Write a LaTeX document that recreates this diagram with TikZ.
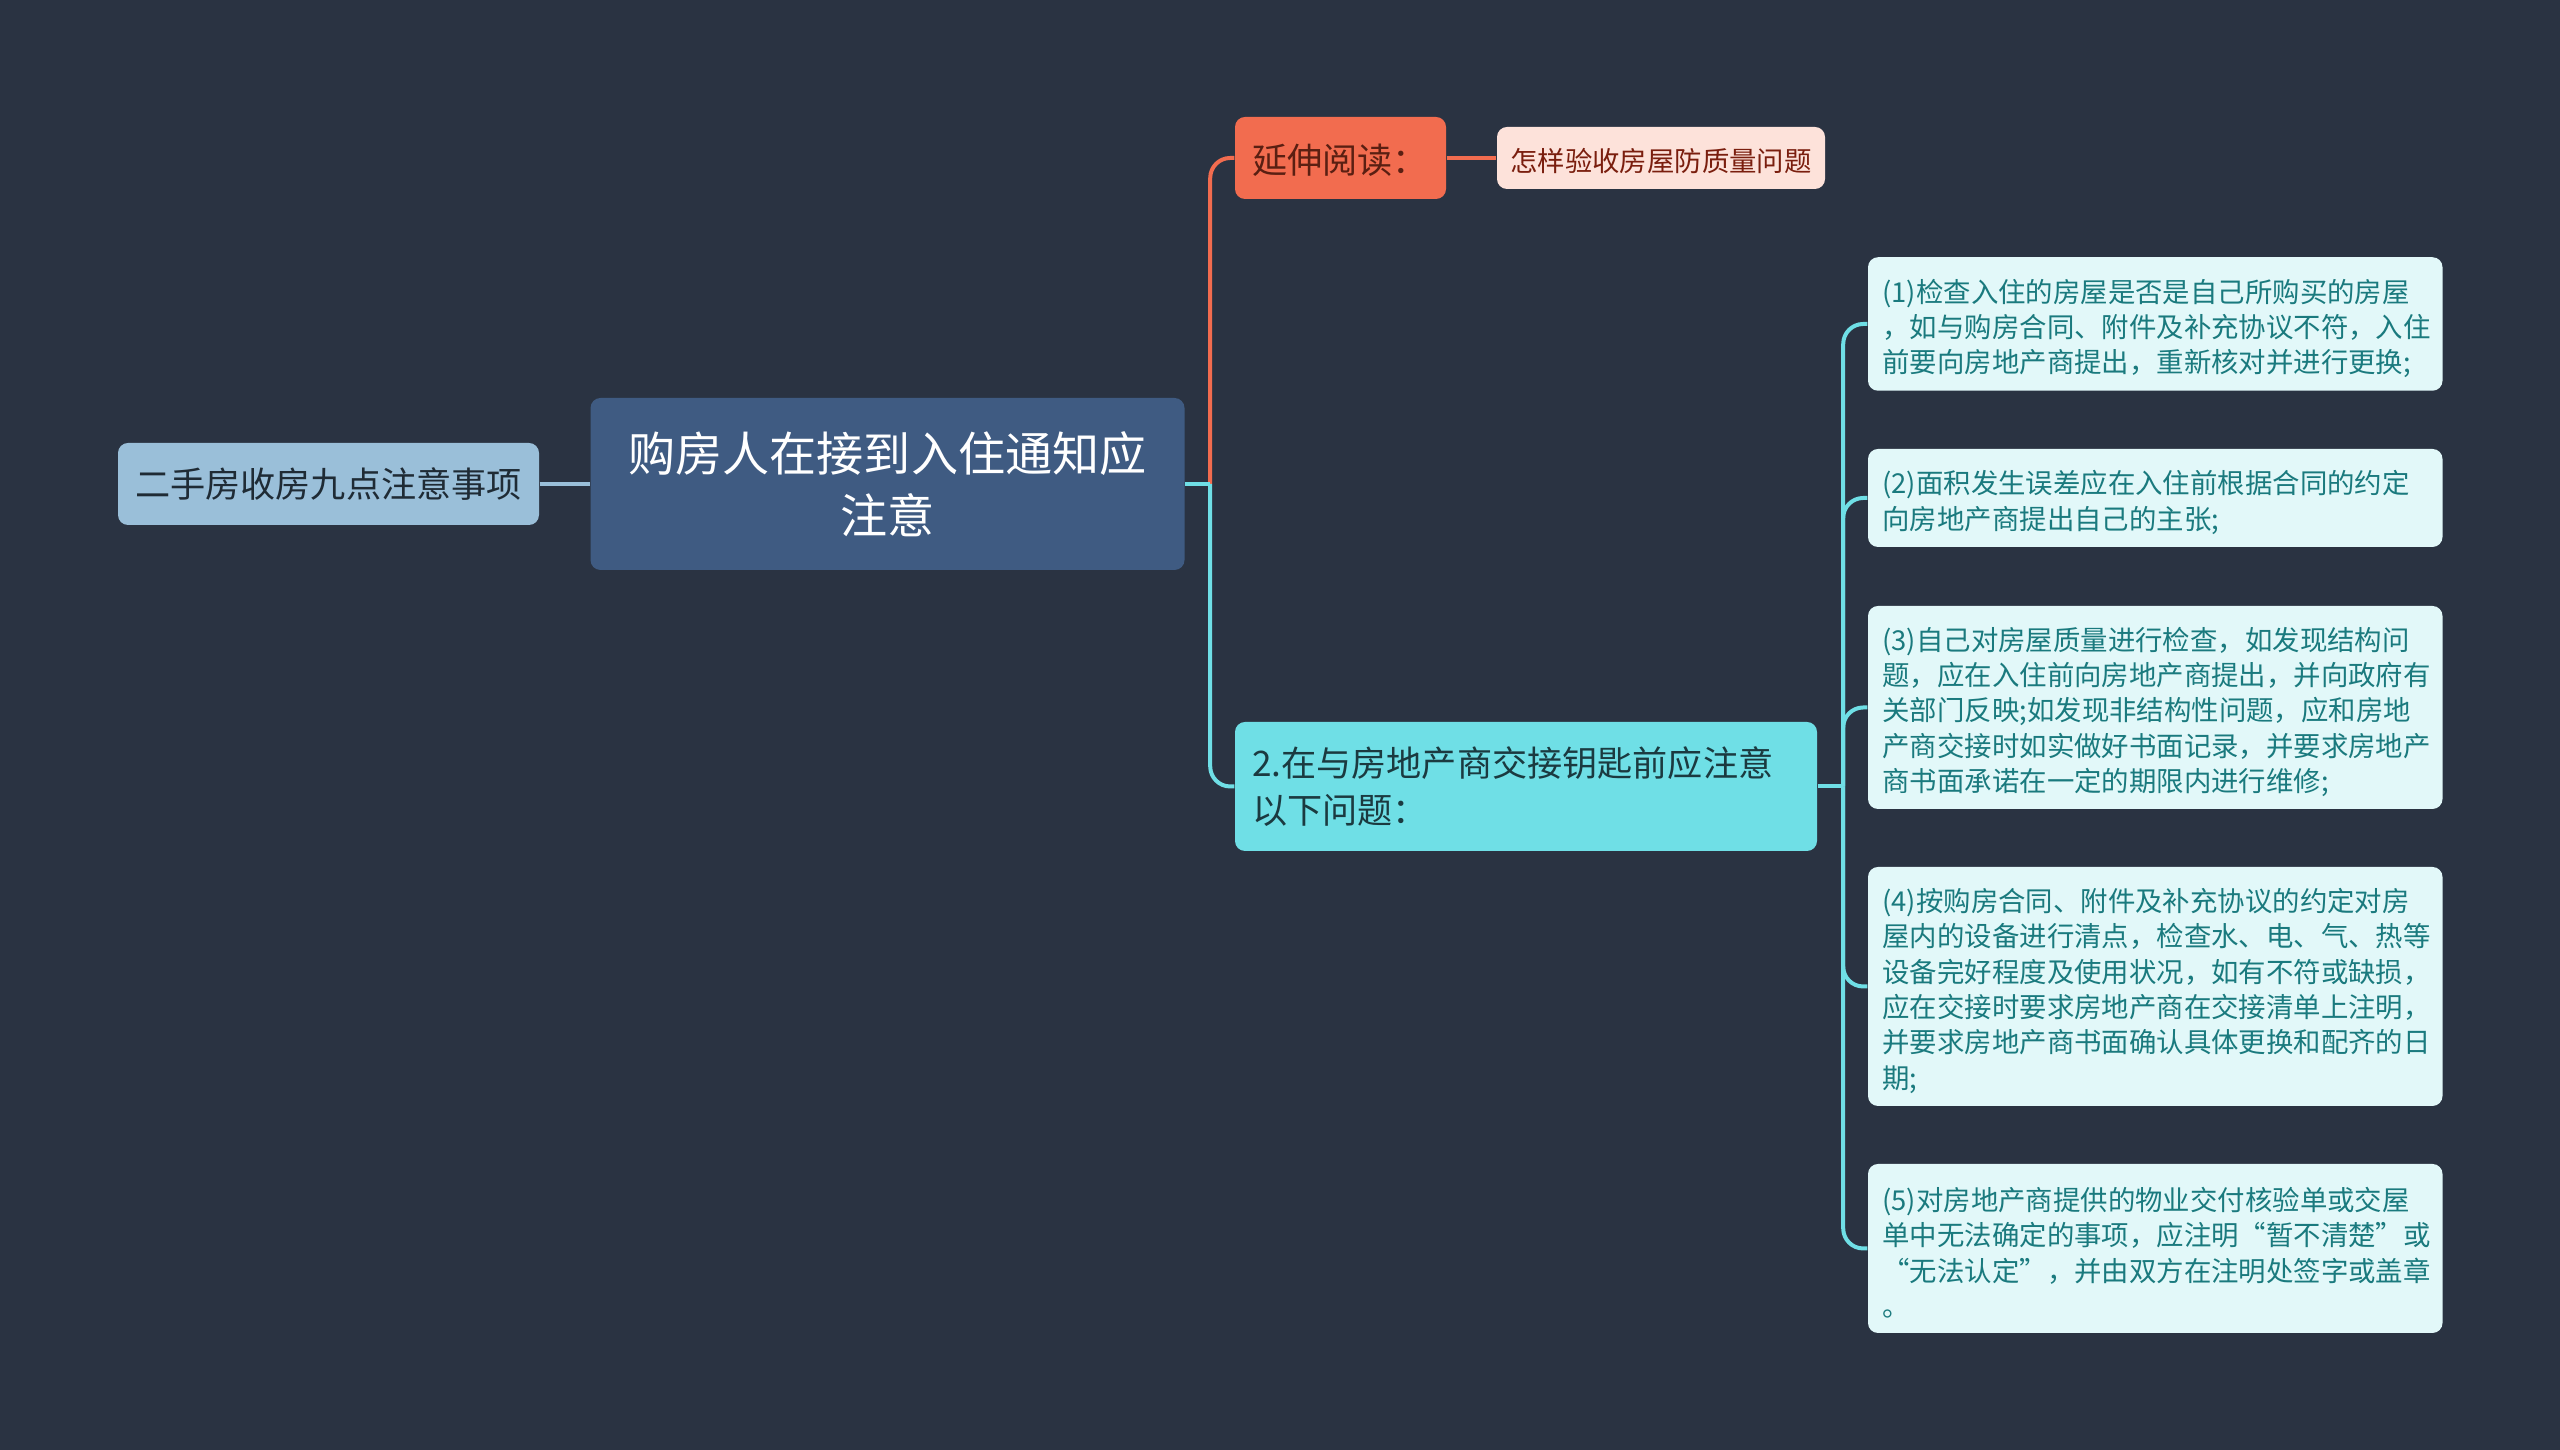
\documentclass[tikz,border=0pt]{standalone}
\usepackage{fontspec}
\setmainfont{Noto Sans CJK SC}
\usetikzlibrary{positioning}
\definecolor{pagebg}{HTML}{2A3342}
\definecolor{rootfill}{HTML}{3F5B82}
\definecolor{sidefill}{HTML}{9ABFD9}
\definecolor{sidetext}{HTML}{1F2B35}
\definecolor{hotfill}{HTML}{F26C4F}
\definecolor{hottext}{HTML}{5A1F12}
\definecolor{palefill}{HTML}{FDE2DA}
\definecolor{paletext}{HTML}{7A1E0E}
\definecolor{topicfill}{HTML}{6FDFE6}
\definecolor{topictext}{HTML}{1B3A40}
\definecolor{leaffill}{HTML}{E2F8F9}
\definecolor{leaftext}{HTML}{1A7A7E}
\tikzstyle{rootdata} = [fill=rootfill, text=white, align=center, text width=5.94cm, inner sep=0pt, minimum height=1.72cm, rounded corners=0.1cm, font=\fontsize{13.4}{17.6}\selectfont]
\tikzstyle{sidedata} = [fill=sidefill, text=sidetext, align=center, text width=4.21cm, inner sep=0pt, minimum height=0.82cm, rounded corners=0.1cm, font=\fontsize{10}{13.5}\selectfont]
\tikzstyle{hotdata} = [fill=hotfill, text=hottext, align=left, text width=1.77cm, inner xsep=0.17cm, inner ysep=0pt, minimum height=0.82cm, rounded corners=0.1cm, font=\fontsize{10}{13.5}\selectfont]
\tikzstyle{paledata} = [fill=palefill, text=paletext, align=center, text width=3.28cm, inner sep=0pt, minimum height=0.62cm, rounded corners=0.1cm, font=\fontsize{7.8}{10.05}\selectfont]
\tikzstyle{topicdata} = [fill=topicfill, text=topictext, align=left, text width=5.48cm, inner xsep=0.17cm, inner ysep=0pt, minimum height=1.29cm, rounded corners=0.1cm, font=\fontsize{10}{13.5}\selectfont]
\tikzstyle{leafdata} = [fill=leaffill, text=leaftext, align=left, text width=5.455cm, inner xsep=0.145cm, inner ysep=0pt, rounded corners=0.1cm, font=\fontsize{7.8}{10.05}\selectfont]
\tikzstyle{sideline} = [draw, line width=0.04cm, color=sidefill]
\tikzstyle{hotline} = [draw, line width=0.04cm, color=hotfill, rounded corners=0.2cm]
\tikzstyle{topicline} = [draw, line width=0.04cm, color=topicfill, rounded corners=0.2cm]
\newcommand{\rootdata}[2]{node (r#1) [rootdata] {#2}}
\newcommand{\sidedata}[2]{node (s#1) [sidedata] {#2}}
\newcommand{\hotdata}[2]{node (h#1) [hotdata] {\rule{0pt}{0.34cm}#2}}
\newcommand{\paledata}[2]{node (p#1) [paledata] {\rule{0pt}{0.3cm}#2}}
\newcommand{\topicdata}[2]{node (t#1) [topicdata] {#2}}
\newcommand{\leafdata}[3]{node (l#1) [leafdata, minimum height=#2cm] {\rule{0pt}{0.32cm}#3}}

\begin{document}
\begin{tikzpicture}
\fill [pagebg] (0,0) rectangle (25.6,14.5);
\useasboundingbox (0,0) rectangle (25.6,14.5);
\path (8.875,9.66) \rootdata{1}{购房人在接到入住通知应\\注意};
\path (r1)+(-5.59,0.0) \sidedata{1}{二手房收房九点注意事项};
\path [sideline] (s1.east) -- (r1.west) node[] {};

\path (r1)+(4.53,3.26) \hotdata{1}{延伸阅读：};
\path (h1)+(3.205,0.0) \paledata{1}{怎样验收房屋防质量问题};
\path [hotline] (h1.east) -- (p1.west) node[] {};

\path (r1)+(6.385,-3.025) \topicdata{1}{2.在与房地产商交接钥匙前应注意\\以下问题：};
\path (r1.east)+(0.25,0.0) coordinate (j1);
\path [hotline] (j1) |- (h1.west) node[] {};
\path [topicline] (j1) |- (t1.west) node[] {};
\path [topicline] (r1.east) -- (j1) node[] {};

\path (t1)+(6.2925,4.625) \leafdata{1}{1.335}{(1)检查入住的房屋是否是自己所购买的房屋\\，如与购房合同、附件及补充协议不符，入住\\前要向房地产商提出，重新核对并进行更换;};
\path (t1)+(6.2925,2.885) \leafdata{2}{0.98}{(2)面积发生误差应在入住前根据合同的约定\\向房地产商提出自己的主张;};
\path (t1)+(6.2925,0.79) \leafdata{3}{2.03}{(3)自己对房屋质量进行检查，如发现结构问\\题，应在入住前向房地产商提出，并向政府有\\关部门反映;如发现非结构性问题，应和房地\\产商交接时如实做好书面记录，并要求房地产\\商书面承诺在一定的期限内进行维修;};
\path (t1)+(6.2925,-2.0) \leafdata{4}{2.39}{(4)按购房合同、附件及补充协议的约定对房\\屋内的设备进行清点，检查水、电、气、热等\\设备完好程度及使用状况，如有不符或缺损，\\应在交接时要求房地产商在交接清单上注明，\\并要求房地产商书面确认具体更换和配齐的日\\期;};
\path (t1)+(6.2925,-4.62) \leafdata{5}{1.69}{(5)对房地产商提供的物业交付核验单或交屋\\单中无法确定的事项，应注明“暂不清楚”或\\“无法认定”，并由双方在注明处签字或盖章\\。};

\path (t1.east)+(0.255,0.0) coordinate (j2);
\path [topicline] (t1.east) -- (j2) node[] {};
\path [topicline] (j2) |- (l1.west) node[] {};
\path [topicline] (j2) |- (l2.west) node[] {};
\path [topicline] (j2) |- (l3.west) node[] {};
\path [topicline] (j2) |- (l4.west) node[] {};
\path [topicline] (j2) |- (l5.west) node[] {};
\end{tikzpicture}
\end{document}
